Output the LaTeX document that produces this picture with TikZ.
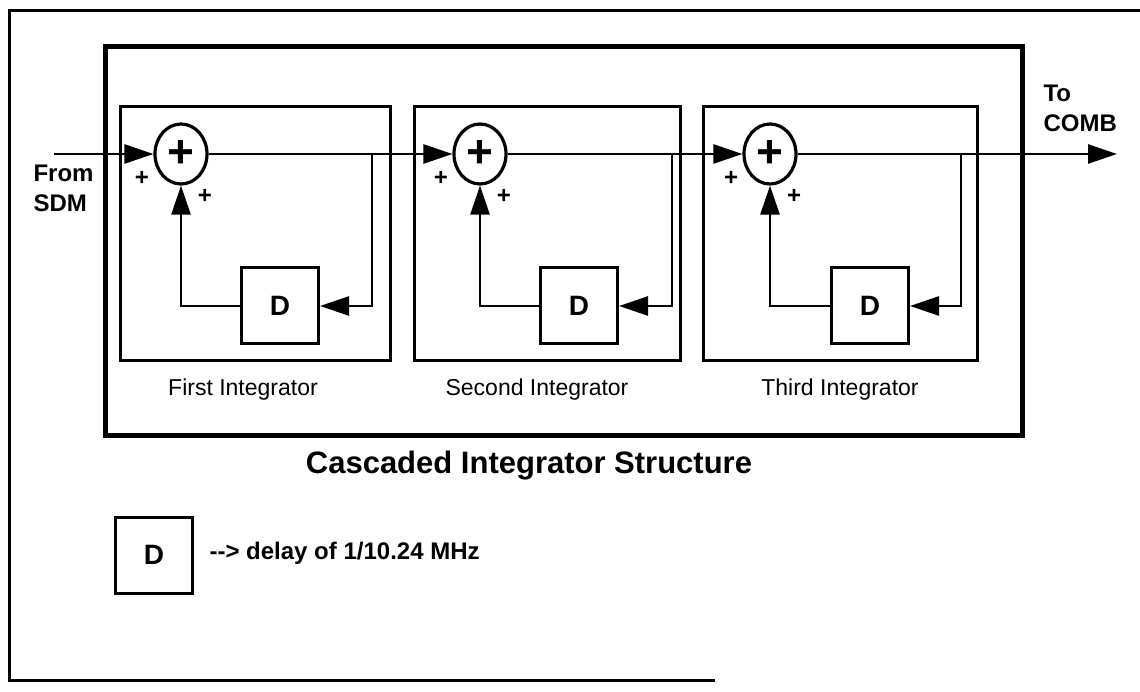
\documentclass[tikz,border=0pt]{standalone}
\usepackage{fontspec}
\setmainfont{Liberation Sans}
\usetikzlibrary{arrows.meta, positioning, calc, shapes.geometric}
\newcommand{\fnt}[2]{\fontsize{#1}{#2}\selectfont}

\begin{document}
\begin{tikzpicture}[
    x=1pt, y=-1pt,
    sumnode/.style={ellipse, draw, line width=3.2pt, minimum width=52pt,
        minimum height=60pt, inner sep=0pt, font=\fnt{46}{46}\bfseries},
    dbox/.style={draw, line width=3pt, minimum width=77pt,
        minimum height=76pt, inner sep=0pt, font=\fnt{28}{28}\bfseries},
    intbox/.style={draw, line width=3pt, minimum height=254pt},
    sig/.style={line width=2.6pt},
    arr/.style={sig, -{Triangle[length=29pt, width=19pt]}},
    lbl/.style={font=\fnt{23}{27}},
    pm/.style={font=\fnt{24}{24}\bfseries, inner sep=0pt},
    io/.style={font=\fnt{24}{30}\bfseries, align=left}
]
\useasboundingbox (0,0) rectangle (1140,692);

% outer frame (open on the right)
\draw[line width=3pt] (1140,11) -- (9,11) -- (9,680) -- (715,680);

% ===================================================================
% CASCADE
% ===================================================================
\node[draw, line width=5pt, minimum width=917pt, minimum height=388pt]
    (cascade) at (563.5,241) {};

\foreach \i/\bx/\bw/\sx/\dx/\tx/\lx/\name in
    {1/255/270/181/280/372/243/First,
     2/547/266/480/579/672/537/Second,
     3/840/274/770/870/961/840/Third} {
    \node[intbox, minimum width=\bw pt] (b\i) at (\bx,234) {};
    \node[sumnode] (s\i) at (\sx,154) {+};
    \node[dbox] (d\i) at (\dx,306) {D};
    \coordinate (t\i) at (\tx,154);
    % input signs
    \node[pm] (pa\i) at ($(s\i)+(-39,24)$) {+};
    \node[pm] (pb\i) at ($(s\i)+(24,42)$) {+};
    % feedback loop
    \draw[arr] (t\i) |- (d\i.east);
    \draw[arr] (d\i.west) -| (s\i.south);
    \node[lbl] (n\i) at (\lx,390) {\name\ Integrator};
}

% forward path
\coordinate (src) at (54,154);
\coordinate (dst) at (1117,154);
\draw[arr] (src) -- (s1.west);
\draw[arr] (s1.east) -- (s2.west);
\draw[arr] (s2.east) -- (s3.west);
\draw[arr] (s3.east) -- (dst);

\node[io, anchor=west] (from) at (30,188) {From\\SDM};
\node[io, anchor=west] (to) at (1040,108) {To\\COMB};

% ===================================================================
% TITLE AND KEY
% ===================================================================
\node[font=\fnt{31}{31}\bfseries] (title) at (529,466)
    {Cascaded Integrator Structure};

\node[dbox] (key) at (154,555) {D};
\node[io, anchor=west] (keytext) at (206,553) {-{}-> delay of 1/10.24 MHz};

\end{tikzpicture}
\end{document}
